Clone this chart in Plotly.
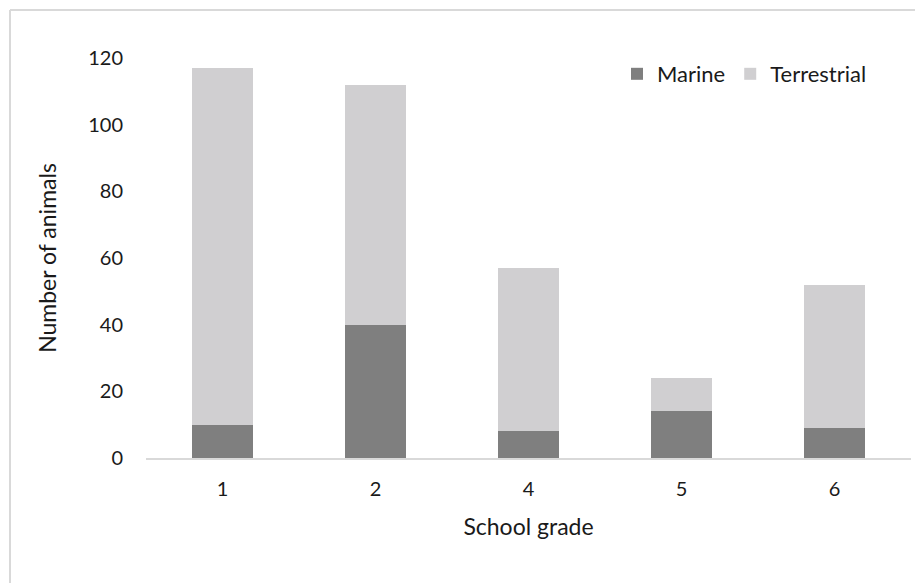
import plotly.graph_objects as go

grades = ["1", "2", "4", "5", "6"]
marine = [10, 40, 8, 14, 9]
terrestrial = [107, 72, 49, 10, 43]

FONT = "Lato"
OFF = 8  # default page body margin
W, H = 923 - OFF, 583 - OFF
L, T = 146 - OFF, 58 - OFF
R = W - (911 - OFF)
B = H - (458 - OFF)
PW, PH = W - L - R, H - T - B

fig = go.Figure()
fig.add_trace(go.Bar(x=grades, y=marine, name="Marine", marker=dict(color="#7f7f7f", line=dict(width=0))))
fig.add_trace(go.Bar(x=grades, y=terrestrial, name="Terrestrial", marker=dict(color="#d0cfd1", line=dict(width=0))))

fig.update_layout(
    barmode="stack",
    bargap=0.6,
    width=W, height=H,
    margin=dict(l=L, r=R, t=T, b=B, autoexpand=False),
    paper_bgcolor="white", plot_bgcolor="white",
    font=dict(family=FONT, size=20, color="#1a1a1a"),
    showlegend=True,
    legend=dict(orientation="h", xref="container", yref="container",
                x=(617 - OFF) / W, xanchor="left", y=1 - (74 - OFF) / H, yanchor="middle",
                font=dict(size=22), itemwidth=30, traceorder="normal",
                bgcolor="rgba(0,0,0,0)"),
    xaxis=dict(type="category", showline=True, linecolor="#d9d9d9", linewidth=2,
               ticks="", showgrid=False, tickfont=dict(size=20), automargin=False,
               ticklabelstandoff=12,
               title=dict(text="School grade", font=dict(size=23), standoff=20)),
    yaxis=dict(range=[0, 120], tickvals=[0, 20, 40, 60, 80, 100, 120], showline=False,
               showgrid=False, zeroline=False, ticks="", tickfont=dict(size=20),
               ticklabelstandoff=22, automargin=False,
               title=dict(text="Number of animals", font=dict(size=23), standoff=25)),
)

fx = (10 - OFF - L) / PW
fy = (H - (10 - OFF) - B) / PH
fig.add_shape(type="line", xref="paper", yref="paper",
              x0=fx, x1=1.1, y0=fy, y1=fy,
              line=dict(color="#d9d9d9", width=2))
fig.add_shape(type="line", xref="paper", yref="paper",
              x0=fx, x1=fx, y0=fy, y1=-0.5,
              line=dict(color="#d9d9d9", width=2))

fig.write_html("out.html")
